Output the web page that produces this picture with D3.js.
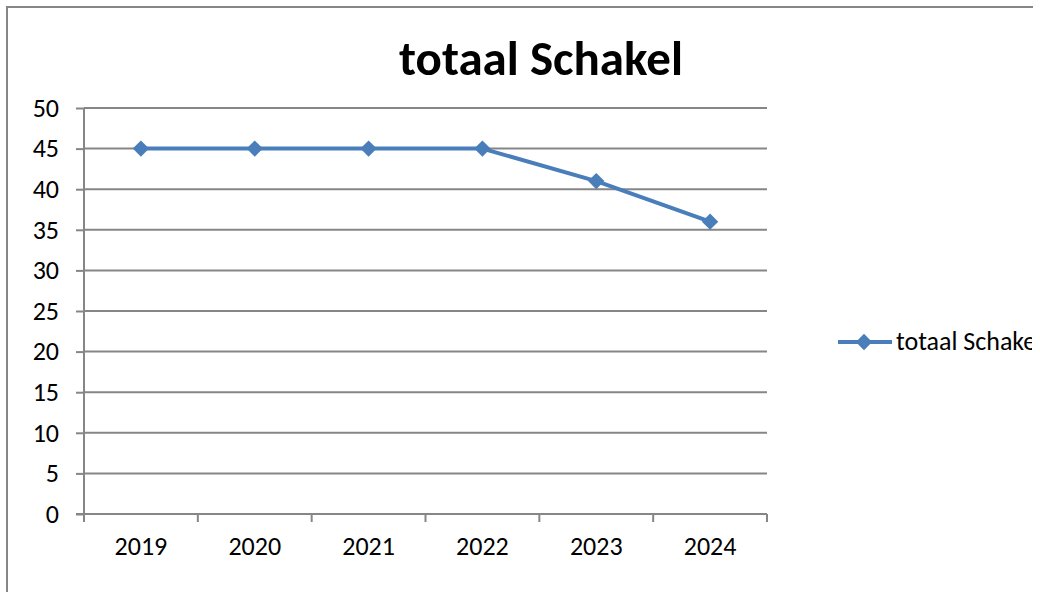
<!DOCTYPE html>
<html><head><meta charset="utf-8">
<script src="https://cdn.jsdelivr.net/npm/d3@7"></script>
<style>body{margin:0;background:#fff}svg{display:block}</style>
</head><body>
<svg id="c" width="1040" height="592"></svg>
<script>
const title = "totaal Schakel";
const seriesName = "totaal Schakel";
const categories = ["2019","2020","2021","2022","2023","2024"];
const values = [45,45,45,45,41,36];
const yTicks = [0,5,10,15,20,25,30,35,40,45,50];

const svg = d3.select("#c");
const font = "Carlito, 'Open Sans', 'Noto Sans', sans-serif";
const gray = "#868686";
const blue = "#4a7ebb";

svg.append("defs").append("clipPath").attr("id","clip")
  .append("rect").attr("x",0).attr("y",0).attr("width",1032).attr("height",592);

// chart border
svg.append("path").attr("d","M7,592 V7 H1033").attr("fill","none").attr("stroke",gray).attr("stroke-width",2);

const L=84, R=767, T=108, B=514;
const x = d3.scaleBand().domain(categories).range([L,R]);
const y = d3.scaleLinear().domain([0,50]).range([B,T]);

// gridlines
svg.append("g").selectAll("line").data(yTicks.filter(d=>d>0)).join("line")
  .attr("x1",L).attr("x2",R).attr("y1",d=>y(d)).attr("y2",d=>y(d))
  .attr("stroke",gray).attr("stroke-width",2);

// y axis
const ya = svg.append("g").attr("transform",`translate(${L},0)`)
  .call(d3.axisLeft(y).tickValues(yTicks).tickSize(8).tickPadding(17));
ya.select(".domain").attr("stroke",gray).attr("stroke-width",2).attr("d",`M0,${T}V${B}`);
ya.selectAll(".tick line").attr("stroke",gray).attr("stroke-width",2);
ya.selectAll("text").attr("font-family",font).attr("font-size",26).attr("fill","#000");

// x axis
const xa = svg.append("g").attr("transform",`translate(0,${B})`)
  .call(d3.axisBottom(x).tickSize(0).tickPadding(23));
xa.select(".domain").attr("stroke",gray).attr("stroke-width",2).attr("d",`M${L-8},0H${R}`);
xa.selectAll(".tick line").remove();
xa.selectAll("text").attr("font-family",font).attr("font-size",26).attr("fill","#000");
// category boundary ticks
svg.append("g").selectAll("line").data(categories.concat(["end"])).join("line")
  .attr("x1",(d,i)=>L+i*x.bandwidth()).attr("x2",(d,i)=>L+i*x.bandwidth())
  .attr("y1",B).attr("y2",B+8).attr("stroke",gray).attr("stroke-width",2);

// line
const line = d3.line().x((d,i)=>x(categories[i])+x.bandwidth()/2).y(d=>y(d));
svg.append("path").datum(values).attr("d",line).attr("fill","none")
  .attr("stroke",blue).attr("stroke-width",4).attr("stroke-linejoin","round");
const diamond = d3.symbol().type(d3.symbolDiamond2).size(170);
svg.append("g").selectAll("path").data(values).join("path")
  .attr("d",diamond)
  .attr("transform",(d,i)=>`translate(${x(categories[i])+x.bandwidth()/2},${y(d)})`)
  .attr("fill",blue);

// title
svg.append("text").attr("x",541).attr("y",75).attr("text-anchor","middle")
  .attr("font-family",font).attr("font-weight","bold").attr("font-size",49).attr("fill","#000")
  .text(title);

// legend
const lg = svg.append("g").attr("clip-path","url(#clip)");
lg.append("line").attr("x1",838).attr("x2",892).attr("y1",342).attr("y2",342)
  .attr("stroke",blue).attr("stroke-width",4);
lg.append("path").attr("d",diamond).attr("transform","translate(864,342)").attr("fill",blue);
lg.append("text").attr("x",896).attr("y",350).attr("font-family",font).attr("font-size",26)
  .attr("fill","#000").text(seriesName);
</script>
</body></html>
